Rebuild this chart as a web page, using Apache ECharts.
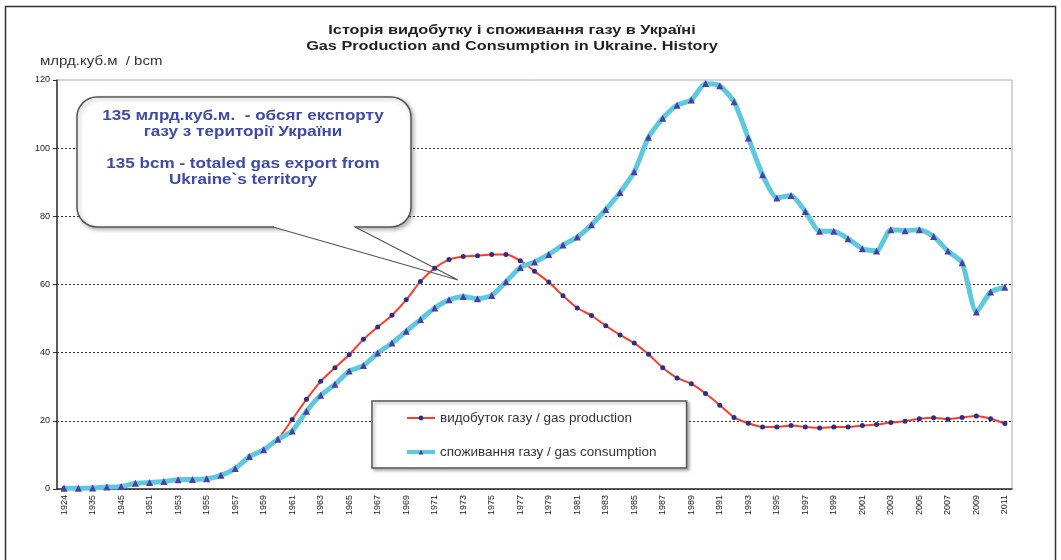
<!DOCTYPE html>
<html>
<head>
<meta charset="utf-8">
<title>Gas Production and Consumption in Ukraine</title>
<script src="https://cdn.jsdelivr.net/npm/echarts@6/dist/echarts.min.js"></script>
<style>
  html, body { margin: 0; padding: 0; background: #fff; }
  #chart { width: 1061px; height: 560px; }
</style>
</head>
<body>
<div id="chart"></div>
<script>
// years on the x axis (only every second one is labelled)
var years = ['1924', '1930', '1935', '1940', '1945', '1950',
  '1951', '1952', '1953', '1954', '1955', '1956', '1957', '1958', '1959', '1960',
  '1961', '1962', '1963', '1964', '1965', '1966', '1967', '1968', '1969', '1970',
  '1971', '1972', '1973', '1974', '1975', '1976', '1977', '1978', '1979', '1980',
  '1981', '1982', '1983', '1984', '1985', '1986', '1987', '1988', '1989', '1990',
  '1991', '1992', '1993', '1994', '1995', '1996', '1997', '1998', '1999', '2000',
  '2001', '2002', '2003', '2004', '2005', '2006', '2007', '2008', '2009', '2010', '2011']

// bcm
var production = [0.2, 0.2, 0.3, 0.6, 0.7, 1.7, 1.9, 2.2, 2.7, 2.8, 3.0, 4.0, 6.0, 9.5, 11.5, 14.6,
  20.4, 26.3, 31.6, 35.6, 39.4, 43.9, 47.5, 51.0, 55.5, 60.9,
  64.8, 67.3, 68.2, 68.4, 68.8, 68.8, 67.0, 63.9, 60.7, 56.7,
  53.1, 50.9, 47.9, 45.2, 42.8, 39.5, 35.6, 32.6, 30.9, 28.0,
  24.6, 21.0, 19.3, 18.2, 18.2, 18.6, 18.2, 17.9, 18.2, 18.2,
  18.6, 18.9, 19.5, 19.9, 20.6, 20.9, 20.5, 21.0, 21.4, 20.6, 19.2]

var consumption = [0.2, 0.2, 0.3, 0.6, 0.7, 1.7, 1.9, 2.2, 2.7, 2.8, 3.0, 4.0, 6.0, 9.5, 11.5, 14.6,
  17.0, 22.8, 27.5, 30.7, 34.6, 36.2, 39.9, 42.8, 46.3, 49.7,
  53.1, 55.5, 56.5, 55.8, 56.8, 60.8, 65.0, 66.6, 68.8, 71.6,
  73.9, 77.5, 82.0, 87.0, 93.1, 103.2, 108.8, 112.6, 114.1, 119.0,
  118.3, 113.6, 103.0, 92.2, 85.4, 86.1, 81.4, 75.6, 75.6, 73.4,
  70.5, 69.8, 76.1, 75.8, 76.1, 74.1, 69.8, 66.4, 51.9, 57.8, 59.2]

var seriesNames = ['видобуток газу / gas production', 'споживання газу / gas consumption']
var titleText = 'Історія видобутку і споживання газу в Україні\nGas Production and Consumption in Ukraine. History'
var unitText = 'млрд.куб.м  / bcm'
var calloutText = '135 млрд.куб.м.  - обсяг експорту\nгазу з території України\n\n135 bcm - totaled gas export from\nUkraine`s territory'

var FONT = '"Liberation Sans", Arial, sans-serif'

var chart = echarts.init(document.getElementById('chart'))
chart.setOption({
  animation: false,
  textStyle: { fontFamily: FONT },
  legend: {
    data: [
      { name: seriesNames[0], lineStyle: { width: 2 } },
      { name: seriesNames[1], lineStyle: { width: 4 } }
    ],
    orient: 'vertical',
    left: 372,
    top: 401,
    padding: [10, 30, 9, 33],
    itemGap: 20,
    itemWidth: 28,
    itemHeight: 6,
    backgroundColor: '#fff',
    borderColor: '#555',
    borderWidth: 1.5,
    shadowBlur: 3,
    shadowOffsetX: 2,
    shadowOffsetY: 2,
    shadowColor: 'rgba(0,0,0,0.3)',
    textStyle: { fontSize: 13.5, color: '#333', fontFamily: FONT }
  },
  grid: {
    left: 57,
    right: 49,
    top: 80,
    bottom: 71,
    show: true,
    borderColor: '#aaa',
    borderWidth: 1
  },
  xAxis: {
    type: 'category',
    data: years,
    boundaryGap: true,
    axisLine: { lineStyle: { color: '#333', width: 1.5 } },
    axisTick: { interval: 0, length: 4, lineStyle: { color: '#333' } },
    axisLabel: { interval: 1, rotate: 90, fontSize: 9, color: '#222', margin: 6 }
  },
  yAxis: {
    type: 'value',
    min: 0,
    max: 120,
    interval: 20,
    axisLine: { show: true, lineStyle: { color: '#333', width: 1.5 } },
    axisTick: { show: true, length: 4, lineStyle: { color: '#333' } },
    axisLabel: { fontSize: 9, color: '#222', margin: 7 },
    splitLine: {
      showMaxLine: false,
      lineStyle: { color: '#333', type: [2, 2], width: 1 }
    }
  },
  series: [{
    name: seriesNames[0],
    type: 'line',
    data: production,
    smooth: 0.2,
    showAllSymbol: true,
    symbol: 'circle',
    symbolSize: 5,
    z: 2,
    lineStyle: { color: '#ff3a2a', width: 2 },
    itemStyle: { color: '#28308c' }
  }, {
    name: seriesNames[1],
    type: 'line',
    data: consumption,
    smooth: 0.2,
    showAllSymbol: true,
    symbol: 'triangle',
    symbolSize: 7,
    z: 3,
    lineStyle: { color: '#5ec8dd', width: 5 },
    itemStyle: { color: '#4a3fa6' }
  }],
  graphic: [{
    // picture frame
    type: 'rect',
    silent: true,
    z: 1,
    shape: { x: 5.5, y: 6.5, width: 1050, height: 600 },
    style: { fill: 'none', stroke: '#333', lineWidth: 1.5 }
  }, {
    // title, the source text is drawn a little stretched
    type: 'text',
    silent: true,
    z: 1,
    x: 512,
    y: 22,
    scaleX: 1.25,
    style: {
      text: titleText,
      textAlign: 'center',
      textVerticalAlign: 'top',
      font: 'bold 13px ' + FONT,
      lineHeight: 16,
      fill: '#222'
    }
  }, {
    type: 'text',
    silent: true,
    z: 1,
    x: 40,
    y: 56,
    scaleX: 1.25,
    style: {
      text: unitText,
      textAlign: 'left',
      textVerticalAlign: 'top',
      font: '12px ' + FONT,
      fill: '#333'
    }
  }, {
    // callout box
    type: 'rect',
    silent: true,
    z: 1,
    shape: { x: 77, y: 97, width: 334, height: 130, r: 20 },
    style: {
      fill: '#fff', stroke: '#555', lineWidth: 1.5,
      shadowBlur: 4, shadowOffsetX: 2, shadowOffsetY: 2, shadowColor: 'rgba(0,0,0,0.3)'
    }
  }, {
    type: 'polygon',
    silent: true,
    z: 1,
    shape: { points: [[274, 220], [274, 227], [458, 280], [354, 227], [354, 220]] },
    style: { fill: '#fff' }
  }, {
    type: 'polyline',
    silent: true,
    z: 1,
    shape: { points: [[273, 227], [458, 280], [355, 227]] },
    style: { fill: 'none', stroke: '#555', lineWidth: 1.2 }
  }, {
    type: 'text',
    silent: true,
    z: 1,
    x: 243,
    y: 108,
    scaleX: 1.22,
    style: {
      text: calloutText,
      textAlign: 'center',
      textVerticalAlign: 'top',
      font: 'bold 14px ' + FONT,
      lineHeight: 16,
      fill: '#3d4ba6'
    }
  }]
})
</script>
</body>
</html>
